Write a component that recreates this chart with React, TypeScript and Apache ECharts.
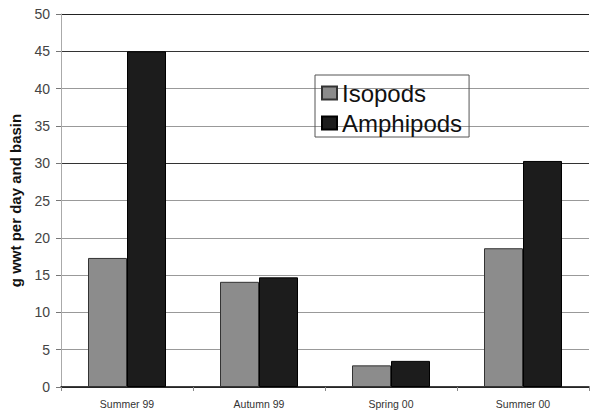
import React, { useEffect, useRef } from "react";
import * as echarts from "echarts";

const categories = ["Summer 99", "Autumn 99", "Spring 00", "Summer 00"];
const isopods = [17.3, 14.1, 2.9, 18.6];
const amphipods = [45, 14.7, 3.5, 30.3];
const seriesNames = ["Isopods", "Amphipods"];

export default function App() {
  const ref = useRef<HTMLDivElement>(null);
  useEffect(() => {
    if (!ref.current) return;
    const chart = echarts.init(ref.current, null, { renderer: "svg" });
    chart.setOption({
      animation: false,
      backgroundColor: "#ffffff",
      textStyle: { fontFamily: "Liberation Sans, Arial, sans-serif" },
      grid: { left: 61, right: 24, top: 14, bottom: 24 },
      legend: {
        orient: "vertical",
        left: 315,
        top: 75,
        data: seriesNames,
        icon: "rect",
        itemWidth: 15,
        itemHeight: 13,
        itemGap: 6,
        padding: [6, 7, 2, 6],
        borderColor: "#555",
        borderWidth: 1,
        textStyle: {
          fontSize: 24,
          color: "#111",
          fontFamily: "Liberation Sans, Arial, sans-serif",
        },
      },
      xAxis: {
        type: "category",
        data: categories,
        axisLine: { show: true, lineStyle: { color: "#000", width: 1.5 } },
        axisTick: { show: true, alignWithLabel: false, length: 4, lineStyle: { color: "#888" } },
        axisLabel: { fontSize: 10.5, color: "#333", margin: 11 },
      },
      yAxis: {
        type: "value",
        min: 0,
        max: 50,
        interval: 5,
        name: "g wwt per day and basin",
        nameLocation: "middle",
        nameGap: 38,
        nameRotate: 90,
        nameTextStyle: { fontSize: 15, fontWeight: "bold", color: "#111" },
        axisLine: { show: true, lineStyle: { color: "#aaa", width: 1 } },
        axisTick: { show: true, length: 5, lineStyle: { color: "#777" } },
        axisLabel: { fontSize: 14, color: "#444", margin: 11 },
        splitLine: {
          show: true,
          lineStyle: {
            color: ["#999", "#999", "#999", "#999", "#999", "#999", "#333", "#999", "#999", "#333", "#222"],
            width: 1,
          },
        },
      },
      series: [
        {
          name: seriesNames[0],
          type: "bar",
          data: isopods,
          barWidth: 39,
          barGap: "0%",
          itemStyle: { color: "#8c8c8c", borderColor: "#333", borderWidth: 1 },
        },
        {
          name: seriesNames[1],
          type: "bar",
          data: amphipods,
          barWidth: 39,
          itemStyle: { color: "#1c1c1c", borderColor: "#000", borderWidth: 1 },
        },
      ],
    });
    return () => chart.dispose();
  }, []);
  return (
    <div
      ref={ref}
      style={{ position: "fixed", left: 0, top: 0, width: 613, height: 411 }}
    />
  );
}
